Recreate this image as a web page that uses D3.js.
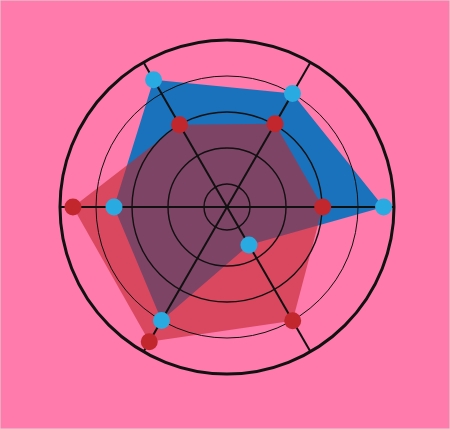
<!DOCTYPE html>
<html>
<head>
<meta charset="utf-8">
<script src="https://cdn.jsdelivr.net/npm/d3@7"></script>
<style>
html,body{margin:0;padding:0;background:#ff7bab;}
svg{display:block;}
</style>
</head>
<body>
<svg id="chart" width="450" height="429"></svg>
<script>
// Axis angles in degrees (math convention, counter-clockwise from the right)
const axes = [0, 60, 120, 180, 240, 300];
const blueValues = [3.71, 3.0, 3.44, 2.5, 3.0, 0.58];
const redValues  = [2.02, 2.03, 2.0, 3.64, 3.68, 3.01];
const ringTicks = [0, 1, 2, 3, 4];

const W = 450, H = 429, cx = 227, cy = 207;
const r = d3.scaleLinear().domain([0, 4]).range([23, 167]);
const svg = d3.select("#chart");
svg.append("rect").attr("width", W).attr("height", H).attr("fill", "#ff7bab")
  .attr("stroke", "#d9d9d9").attr("stroke-width", 1);
const g = svg.append("g").attr("transform", `translate(${cx},${cy})`);

const pt = (v, i) => {
  const a = axes[i] * Math.PI / 180;
  return [r(v) * Math.cos(a), -r(v) * Math.sin(a)];
};
const line = d3.line().curve(d3.curveLinearClosed);

// areas
g.append("path").attr("d", line(blueValues.map(pt)))
  .attr("fill", "#0071bc").attr("fill-opacity", 0.9);
g.append("path").attr("d", line(redValues.map(pt)))
  .attr("fill", "#c1272d").attr("fill-opacity", 0.6);

// grid rings
g.selectAll("circle.ring").data(ringTicks).join("circle")
  .attr("class", "ring").attr("r", d => r(d))
  .attr("fill", "none").attr("stroke", "#111")
  .attr("stroke-width", d => d === 4 ? 3 : (d === 3 ? 1 : 1.4));

// spokes
g.selectAll("line.spoke").data(axes).join("line")
  .attr("class", "spoke")
  .attr("x1", 0).attr("y1", 0)
  .attr("x2", (d, i) => pt(4, i)[0]).attr("y2", (d, i) => pt(4, i)[1])
  .attr("stroke", "#111").attr("stroke-width", 2);

// dots
g.selectAll("circle.red").data(redValues).join("circle")
  .attr("class", "red")
  .attr("cx", (d, i) => pt(d, i)[0]).attr("cy", (d, i) => pt(d, i)[1])
  .attr("r", 8.5).attr("fill", "#c1272d");
g.selectAll("circle.blue").data(blueValues).join("circle")
  .attr("class", "blue")
  .attr("cx", (d, i) => pt(d, i)[0]).attr("cy", (d, i) => pt(d, i)[1])
  .attr("r", 8.5).attr("fill", "#29abe2");
</script>
</body>
</html>
